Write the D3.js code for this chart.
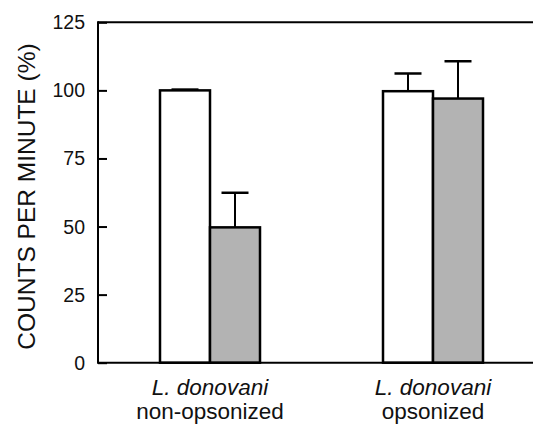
<!DOCTYPE html>
<html><head><meta charset="utf-8">
<script src="https://cdn.jsdelivr.net/npm/d3@7"></script>
<style>body{margin:0;background:#fff;} svg{display:block;} text{font-family:"Liberation Sans",Arial,sans-serif;fill:#111;}</style>
</head><body>
<svg id="c" width="534" height="427"></svg>
<script>
const groups = ["non-opsonized", "opsonized"];
const groupSpecies = ["L. donovani", "L. donovani"];
const series = ["control", "treated"];
const seriesColors = ["#ffffff", "#b3b3b3"];
const values = [[100, 49.7], [99.7, 97.0]];
const errors = [[0.3, 12.7], [6.5, 13.7]];
const yTicks = [0, 25, 50, 75, 100, 125];
const yLabel = "COUNTS PER MINUTE (%)";

const svg = d3.select("#c");
const m = {left: 98, right: 533, top: 22.3, bottom: 362.7};
const y = d3.scaleLinear().domain([0, 125]).range([m.bottom, m.top]);
const x = d3.scalePoint().domain(groups).range([m.left + 112, m.right - 100]);
const barW = 50;
const xs = d3.scaleBand().domain(series).range([-barW, barW]).padding(0);

svg.append("line").attr("x1", m.left).attr("x2", m.right).attr("y1", y(125)).attr("y2", y(125))
  .attr("stroke", "#000").attr("stroke-width", 2);

const yAxis = d3.axisRight(y).tickValues(yTicks).tickSize(9).tickFormat("");
const ga = svg.append("g").attr("transform", `translate(${m.left},0)`).call(yAxis);
ga.select(".domain").remove();
ga.selectAll(".tick line").attr("stroke", "#000").attr("stroke-width", 2);
svg.append("line").attr("x1", m.left).attr("x2", m.left).attr("y1", y(125) - 1).attr("y2", y(0))
  .attr("stroke", "#000").attr("stroke-width", 2);

svg.append("g").selectAll("text").data(yTicks).join("text")
  .attr("x", m.left - 13).attr("y", d => y(d)).attr("dy", "0.36em")
  .attr("text-anchor", "end").style("font-size", "19.5px").text(d => d);

groups.forEach((g, gi) => {
  series.forEach((s, si) => {
    const x0 = x(g) + xs(s);
    const v = values[gi][si], e = errors[gi][si];
    const cx = x0 + xs.bandwidth() / 2;
    svg.append("line").attr("x1", cx).attr("x2", cx).attr("y1", y(v)).attr("y2", y(v + e))
      .attr("stroke", "#000").attr("stroke-width", 2);
    svg.append("line").attr("x1", cx - 13.5).attr("x2", cx + 13.5).attr("y1", y(v + e)).attr("y2", y(v + e))
      .attr("stroke", "#000").attr("stroke-width", 2.5);
    svg.append("rect").attr("x", x0).attr("y", y(v)).attr("width", xs.bandwidth()).attr("height", y(0) - y(v))
      .attr("fill", seriesColors[si]).attr("stroke", "#000").attr("stroke-width", 2.5);
  });
});

svg.append("line").attr("x1", m.left - 1).attr("x2", m.right).attr("y1", y(0)).attr("y2", y(0))
  .attr("stroke", "#000").attr("stroke-width", 2);

groups.forEach((g, gi) => {
  svg.append("text").attr("x", x(g)).attr("y", 395).attr("text-anchor", "middle")
    .style("font-size", "22.5px").style("font-style", "italic").text(groupSpecies[gi]);
  svg.append("text").attr("x", x(g)).attr("y", 419).attr("text-anchor", "middle")
    .style("font-size", "22.5px").text(g);
});

svg.append("text").attr("transform", `translate(35,196.5) rotate(-90)`)
  .attr("text-anchor", "middle").style("font-size", "24.5px").text(yLabel);
</script>
</body></html>
